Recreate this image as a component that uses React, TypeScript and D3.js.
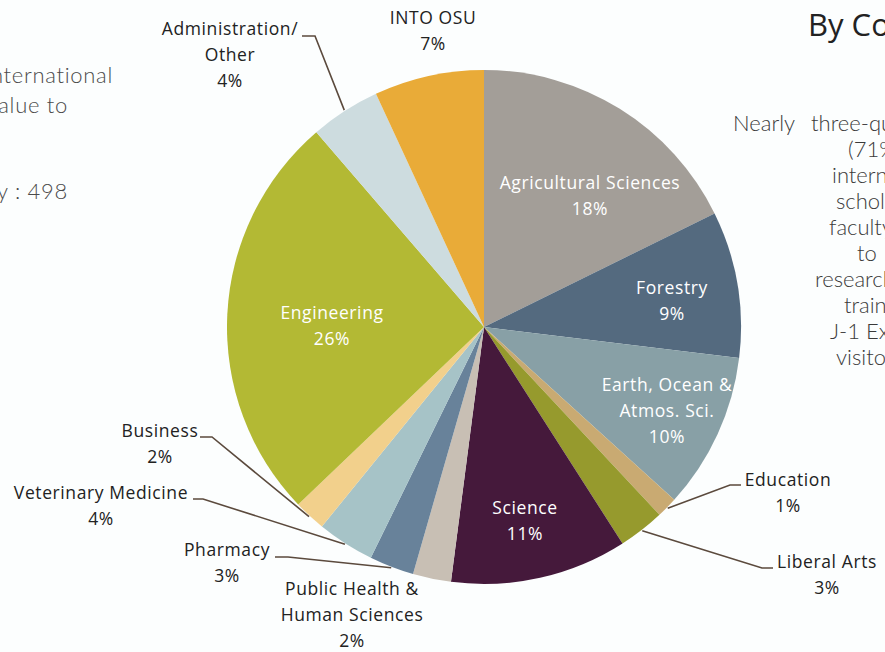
import React from "react";
import * as d3 from "d3";

const categories = [
  "Agricultural Sciences", "Forestry", "Earth, Ocean & Atmos. Sci.", "Education", "Liberal Arts",
  "Science", "Public Health & Human Sciences", "Pharmacy", "Veterinary Medicine", "Business",
  "Engineering", "Administration/ Other", "INTO OSU",
];
const values = [17.7, 9.2, 9.8, 1.3, 2.9, 11.1, 2.4, 2.8, 3.6, 2.0, 25.8, 4.4, 6.9];
const percentLabels = ["18%", "9%", "10%", "1%", "3%", "11%", "2%", "3%", "4%", "2%", "26%", "4%", "7%"];
const labelLines = [
  ["Agricultural Sciences"], ["Forestry"], ["Earth, Ocean &", "Atmos. Sci."], ["Education"], ["Liberal Arts"],
  ["Science"], ["Public Health &", "Human Sciences"], ["Pharmacy"], ["Veterinary Medicine"], ["Business"],
  ["Engineering"], ["Administration/", "Other"], ["INTO OSU"],
];
const colors = [
  "#a39e98", "#546a7f", "#88a0a6", "#c9aa72", "#969a2d", "#45193b", "#c8bfb4",
  "#68829a", "#a6c3c7", "#f2d08c", "#b3b934", "#cddcdf", "#e9ab38",
];

const leftText = ["International", "value to", "Country : 498"];
const rightText = ["three-quarters", "(71%) of", "international", "scholars", "faculty", "to", "research", "training", "J-1 Exchange", "visitors"];

// layout (positions), keyed by category index
const labelLayout: Record<number, { x: number; y: number; inside: boolean; elbow?: [number, number]; end?: [number, number] }> = {
  0: { x: 590, y: 183, inside: true },
  1: { x: 672, y: 288, inside: true },
  2: { x: 667, y: 385, inside: true },
  3: { x: 788, y: 480, inside: false, elbow: [730, 485], end: [741, 485] },
  4: { x: 827, y: 562, inside: false, elbow: [762, 568], end: [773, 568] },
  5: { x: 525, y: 508, inside: true },
  6: { x: 352, y: 589, inside: false },
  7: { x: 227, y: 550, inside: false, elbow: [288, 557], end: [275, 557] },
  8: { x: 101, y: 493, inside: false, elbow: [203, 499], end: [193, 499] },
  9: { x: 160, y: 431, inside: false, elbow: [212, 437], end: [200, 437] },
  10: { x: 332, y: 313, inside: true },
  11: { x: 230, y: 29, inside: false, elbow: [315, 36], end: [302, 36] },
  12: { x: 433, y: 18, inside: false },
};
const rightXs = [811, 848, 832, 836, 829, 857, 815, 844, 830, 836];

const W = 885, H = 652;
const cx = 484, cy = 327, R = 257;
const FONT = "'Open Sans', 'Noto Sans', sans-serif";
const LIGHT = "Lato, 'Open Sans', sans-serif";
const LH = 26;

export default function App() {
  const pie = d3.pie<number>().sort(null).value((d) => d);
  const arcs = pie(values);
  const arcGen = d3.arc<d3.PieArcDatum<number>>().innerRadius(0).outerRadius(R);

  return (
    <svg width={W} height={H} style={{ position: "absolute", left: 0, top: 0, background: "#fcfefe" }}>
      <rect width={W} height={H} fill="#fcfefe" />
      {/* left partial text */}
      <g fontFamily={LIGHT} fontWeight={300} fontSize={22} letterSpacing={0.7} fill="#4a4a4a" textAnchor="end">
        <text x={113} y={83}>{leftText[0]}</text>
        <text x={68} y={113}>{leftText[1]}</text>
        <text x={68} y={199}>{leftText[2]}</text>
      </g>
      {/* right partial text */}
      <text x={808} y={36} fontFamily={FONT} fontSize={31} fill="#222">By College</text>
      <g fontFamily={LIGHT} fontWeight={300} fontSize={22} fill="#3a3a3a">
        <text x={733} y={131}>Nearly</text>
        {rightText.map((t, i) => (
          <text key={i} x={rightXs[i]} y={131 + i * 26}>{t}</text>
        ))}
      </g>
      <g transform={`translate(${cx},${cy})`}>
        {arcs.map((a, i) => (
          <path key={i} d={arcGen(a) as string} fill={colors[i]} />
        ))}
      </g>
      {/* leader lines */}
      <g fill="none" stroke="#5b4a3d" strokeWidth={1.6}>
        {arcs.map((a, i) => {
          const L = labelLayout[i];
          if (!L.elbow || !L.end) return null;
          const mid = (a.startAngle + a.endAngle) / 2;
          const sx = cx + Math.sin(mid) * (R + 1);
          const sy = cy - Math.cos(mid) * (R + 1);
          return <polyline key={i} points={`${sx},${sy} ${L.elbow[0]},${L.elbow[1]} ${L.end[0]},${L.end[1]}`} />;
        })}
      </g>
      {/* labels */}
      <g fontFamily={FONT} fontSize={17.5} letterSpacing={0.6} textAnchor="middle">
        {categories.map((c, i) => {
          const L = labelLayout[i];
          const lines = [...labelLines[i], percentLabels[i]];
          return (
            <text key={c} fill={L.inside ? "#ffffff" : "#222222"}>
              {lines.map((ln, j) => (
                <tspan key={j} x={L.x} y={L.y + j * LH} dy="0.35em">{ln}</tspan>
              ))}
            </text>
          );
        })}
      </g>
    </svg>
  );
}
